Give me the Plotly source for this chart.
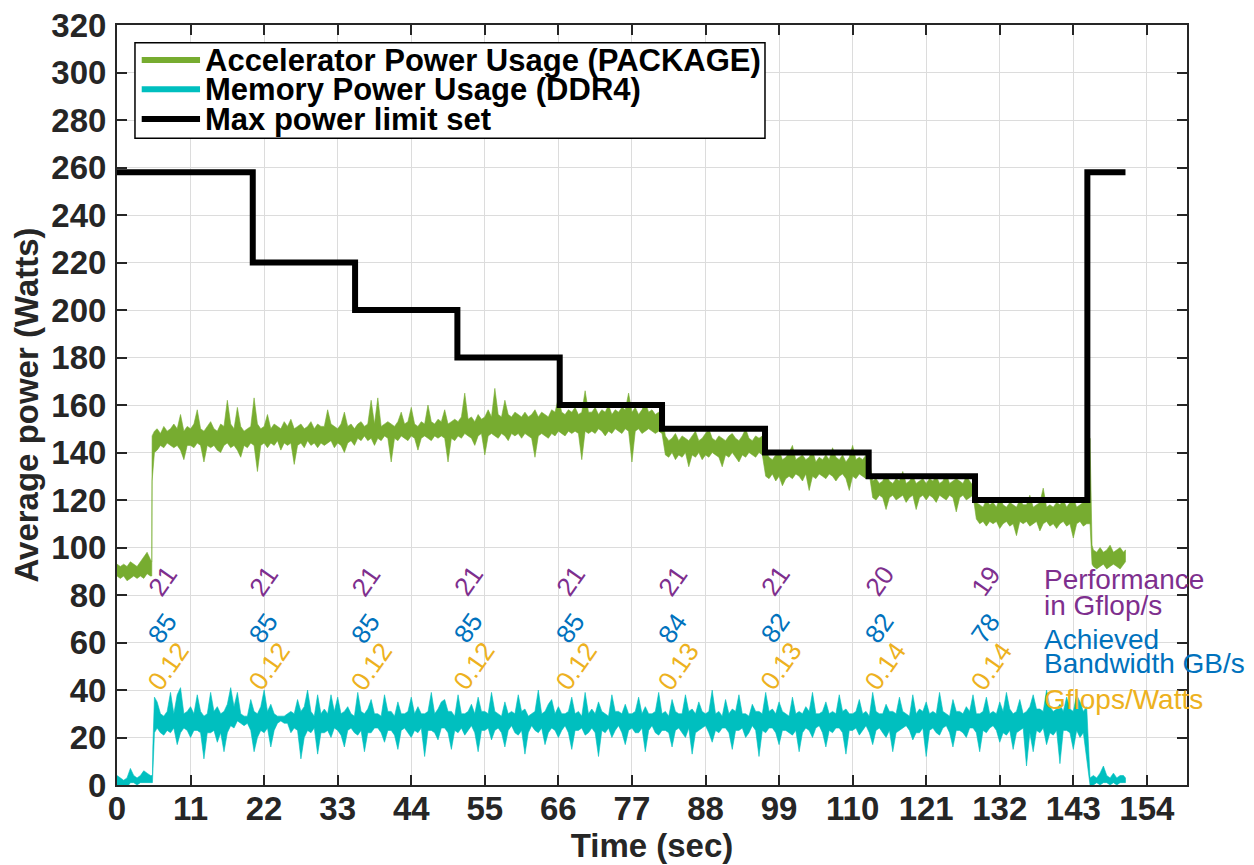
import plotly.graph_objects as go

# ======================= data =======================
# Accelerator (PACKAGE) power -- envelope of the noisy trace.
# before the load starts (explicit sample times)
green_pre_t = [0, 0.5, 1, 1.5, 2, 2.5, 3, 3.5, 4, 4.5, 5, 5.2, 5.25, 5.6]
green_pre_hi = [93, 92, 93, 92, 94, 93, 92, 94, 96, 98, 95, 94, 147, 149]
green_pre_lo = [88, 87, 88, 86, 87, 88, 87, 88, 87, 89, 88, 88, 128, 140]
# main run, one sample every 0.5 s starting at t = 6.0 s (rows of 5 s)
green_main_hi = [
    150, 148, 151, 149, 150, 152, 150, 156, 149, 151,
    150, 152, 158, 150, 149, 151, 153, 150, 149, 152,
    151, 162, 152, 150, 159, 151, 149, 150, 151, 163,
    152, 150, 151, 156, 150, 152, 151, 150, 153, 151,
    154, 150, 151, 152, 150, 151, 153, 150, 152, 151,
    151, 158, 152, 151, 150, 152, 157, 151, 152, 150,
    152, 153, 151, 152, 162, 152, 163, 151, 152, 153,
    152, 151, 153, 157, 152, 153, 159, 152, 151, 153,
    152, 160, 153, 152, 154, 153, 158, 152, 153, 154,
    153, 155, 165, 154, 155, 153, 156, 154, 155, 158,
    155, 167, 156, 155, 162, 156, 155, 157, 156, 155,
    157, 155, 156, 158, 155, 157, 156, 155, 158, 157,
    163, 157, 156, 158, 157, 159, 156, 157, 166, 157,
    157, 159, 156, 158, 157, 160, 156, 158, 157, 159,
    158, 165, 157, 159, 156, 158, 161, 157, 158, 156,
    157, 155, 147, 145, 146, 148, 145, 147, 146, 145,
    147, 149, 145, 146, 148, 150, 146, 145, 147, 146,
    145, 147, 148, 146, 145, 147, 150, 146, 145, 147,
    146, 147, 141, 138, 137, 139, 141, 137, 138, 140,
    143, 137, 138, 139, 137, 138, 141, 136, 138, 137,
    139, 137, 142, 138, 137, 139, 136, 138, 143, 137,
    138, 137, 139, 137, 128, 129, 127, 128, 131, 128,
    127, 129, 128, 132, 127, 128, 130, 127, 128, 129,
    127, 129, 128, 130, 127, 128, 131, 127, 128, 129,
    128, 127, 130, 128, 126, 119, 118, 117, 120, 118,
    119, 117, 121, 118, 117, 119, 118, 117, 120, 118,
    118, 122, 117, 118, 119, 125, 117, 118, 117, 119,
    118, 120, 117, 119, 121, 117, 118, 119, 120, 146,
]
green_main_lo = [
    141, 143, 142, 144, 143, 142, 143, 141, 137, 143,
    143, 142, 144, 143, 136, 143, 142, 143, 141, 140,
    143, 144, 142, 143, 141, 138, 143, 142, 144, 143,
    132, 143, 144, 142, 144, 143, 145, 141, 144, 143,
    144, 135, 143, 144, 142, 145, 143, 144, 142, 144,
    143, 144, 145, 142, 144, 143, 140, 144, 145, 143,
    146, 145, 147, 145, 146, 143, 146, 145, 147, 146,
    136, 146, 145, 147, 146, 145, 147, 146, 141, 146,
    147, 146, 145, 147, 146, 147, 146, 136, 146, 145,
    147, 146, 148, 147, 146, 143, 147, 148, 139, 147,
    148, 147, 146, 148, 147, 145, 148, 147, 148, 146,
    148, 147, 146, 138, 147, 148, 147, 146, 148, 147,
    149, 148, 147, 149, 148, 149, 148, 137, 149, 148,
    149, 148, 150, 149, 147, 149, 148, 150, 149, 148,
    150, 149, 136, 149, 150, 148, 149, 150, 149, 148,
    149, 148, 139, 138, 140, 137, 139, 138, 140, 134,
    139, 138, 140, 137, 139, 138, 140, 139, 138, 134,
    139, 138, 140, 138, 136, 139, 138, 140, 139, 138,
    140, 139, 130, 129, 131, 128, 130, 126, 129, 130,
    129, 131, 130, 128, 131, 124, 130, 129, 131, 130,
    129, 131, 130, 128, 130, 131, 129, 124, 130, 129,
    131, 130, 129, 131, 121, 120, 122, 121, 116, 121,
    122, 120, 121, 122, 119, 121, 122, 116, 121, 122,
    120, 122, 121, 119, 122, 121, 120, 122, 121, 115,
    121, 122, 120, 121, 122, 112, 110, 111, 109, 111,
    110, 111, 108, 110, 111, 109, 110, 105, 111, 110,
    111, 109, 110, 111, 107, 110, 111, 109, 110, 108,
    110, 111, 109, 110, 104, 110, 111, 109, 110, 110,
]
# after the load ends
green_post_t = [145.8, 146, 146.5, 147, 147.5, 148, 148.5, 149, 149.5, 150, 150.5, 150.8]
green_post_hi = [101, 99, 98, 100, 98, 99, 101, 98, 99, 100, 98, 99]
green_post_lo = [93, 92, 91, 92, 93, 91, 92, 93, 92, 91, 93, 94]

# Memory (DDR4) power -- envelope of the noisy trace.
cyan_pre_t = [0, 0.5, 1, 1.5, 2, 2.5, 3, 3.5, 4, 4.5, 5, 5.3, 5.35, 5.6]
cyan_pre_hi = [4, 3, 2, 3, 7, 4, 3, 4, 6, 5, 4, 4, 15, 37]
cyan_pre_lo = [0, -1, 0, -1, 1, 1, 0, 1, 1, 1, 1, 1, 4, 22]
cyan_main_hi = [
    35, 30, 29, 31, 39, 30, 38, 41, 30, 31,
    33, 30, 38, 31, 29, 30, 39, 31, 33, 30,
    31, 34, 41, 33, 39, 30, 29, 29, 36, 31,
    30, 33, 40, 31, 34, 30, 29, 29, 29, 30,
    31, 30, 36, 31, 33, 40, 31, 29, 38, 30,
    32, 30, 38, 31, 37, 30, 31, 33, 30, 29,
    39, 31, 30, 32, 36, 30, 30, 29, 38, 31,
    31, 29, 35, 30, 30, 31, 37, 30, 33, 30,
    30, 31, 39, 30, 32, 35, 36, 31, 31, 29,
    38, 30, 30, 31, 34, 30, 37, 31, 31, 30,
    39, 31, 30, 29, 35, 30, 31, 30, 38, 31,
    32, 29, 30, 31, 40, 30, 31, 34, 36, 30,
    33, 30, 30, 31, 37, 30, 31, 29, 39, 30,
    32, 30, 35, 31, 30, 29, 38, 31, 31, 30,
    34, 30, 30, 31, 37, 30, 33, 30, 30, 31,
    39, 30, 31, 29, 36, 31, 30, 30, 38, 31,
    32, 30, 35, 31, 30, 31, 40, 30, 31, 29,
    36, 30, 32, 31, 38, 30, 30, 29, 34, 31,
    31, 30, 39, 31, 32, 30, 35, 31, 30, 29,
    37, 30, 31, 30, 33, 31, 39, 30, 30, 31,
    35, 30, 31, 30, 38, 31, 32, 30, 30, 31,
    36, 30, 31, 29, 39, 31, 30, 30, 34, 31,
    31, 30, 37, 31, 30, 29, 38, 30, 32, 31,
    35, 30, 31, 30, 39, 31, 30, 29, 36, 31,
    31, 30, 33, 31, 38, 30, 30, 31, 37, 30,
    31, 30, 35, 31, 39, 32, 30, 31, 36, 30,
    31, 33, 38, 32, 32, 31, 40, 33, 31, 32,
    34, 31, 37, 32, 31, 38, 35, 31, 33, 3,
]
cyan_main_lo = [
    24, 22, 21, 23, 22, 24, 17, 22, 24, 23,
    20, 23, 23, 22, 11, 22, 22, 23, 18, 22,
    14, 22, 25, 24, 27, 26, 25, 26, 23, 14,
    20, 23, 22, 24, 16, 23, 26, 27, 26, 26,
    22, 24, 23, 11, 20, 23, 22, 24, 13, 22,
    22, 23, 20, 24, 23, 21, 16, 23, 24, 22,
    21, 23, 14, 22, 22, 24, 24, 22, 18, 23,
    23, 21, 15, 23, 24, 22, 20, 23, 22, 24,
    12, 23, 23, 22, 19, 24, 24, 22, 15, 23,
    22, 24, 21, 23, 25, 22, 14, 23, 23, 24,
    19, 23, 24, 22, 16, 23, 25, 22, 21, 23,
    13, 22, 25, 23, 22, 24, 17, 22, 24, 23,
    20, 23, 25, 22, 15, 23, 23, 24, 21, 22,
    24, 22, 12, 23, 22, 24, 20, 23, 25, 22,
    17, 23, 24, 22, 22, 24, 14, 23, 25, 22,
    21, 23, 23, 22, 16, 23, 24, 22, 20, 24,
    13, 22, 23, 24, 25, 22, 18, 23, 22, 24,
    24, 22, 15, 23, 23, 24, 20, 22, 25, 23,
    12, 23, 22, 24, 24, 22, 17, 23, 23, 22,
    21, 23, 14, 22, 24, 23, 20, 24, 25, 22,
    16, 23, 22, 24, 24, 22, 13, 23, 23, 24,
    21, 23, 25, 22, 17, 23, 24, 22, 20, 23,
    14, 22, 23, 24, 25, 23, 19, 22, 22, 24,
    12, 23, 24, 22, 21, 24, 25, 22, 16, 23,
    23, 22, 20, 24, 24, 22, 14, 23, 22, 24,
    25, 23, 18, 22, 21, 23, 15, 22, 23, 24,
    8, 22, 14, 23, 22, 24, 17, 22, 21, 23,
    9, 23, 23, 22, 15, 23, 20, 22, 12, 0,
]
cyan_post_t = [146, 146.5, 147, 147.5, 148, 148.5, 149, 149.5, 150, 150.5, 150.8]
cyan_post_hi = [4, 3, 5, 8, 4, 3, 5, 3, 4, 4, 3]
cyan_post_lo = [0, 1, 0, 1, 1, 0, 1, 0, 1, 1, 1]

MAIN_START_S = 6.0
SAMPLE_STEP_S = 0.5

# Max power limit set (step changes)
limit_t = [0, 20.3, 35.6, 50.9, 66.2, 81.5, 96.9, 112.4, 128.3, 145.1, 150.8]
limit_w = [258, 220, 200, 180, 160, 150, 140, 130, 120, 258, 258]

# Per-phase annotations
label_t = [6.8, 21.9, 37.2, 52.5, 67.8, 83.1, 98.4, 114.0, 129.9]
perf_gflops = ["21", "21", "21", "21", "21", "21", "21", "20", "19"]
bandwidth_gbs = ["85", "85", "85", "85", "85", "84", "82", "82", "78"]
gflops_per_watt = ["0.12", "0.12", "0.12", "0.12", "0.12", "0.13", "0.13", "0.14", "0.14"]

x_ticks = [0, 11, 22, 33, 44, 55, 66, 77, 88, 99, 110, 121, 132, 143, 154]
y_ticks = [0, 20, 40, 60, 80, 100, 120, 140, 160, 180, 200, 220, 240, 260, 280, 300, 320]

series_names = ["Accelerator Power Usage (PACKAGE)", "Memory Power Usage (DDR4)",
                "Max power limit set"]

# ======================= assemble =======================
assert len(green_main_hi) == len(green_main_lo)
assert len(cyan_main_hi) == len(cyan_main_lo)
assert len(green_pre_t) == len(green_pre_hi) == len(green_pre_lo)
assert len(cyan_pre_t) == len(cyan_pre_hi) == len(cyan_pre_lo)
assert len(green_post_t) == len(green_post_hi) == len(green_post_lo)
assert len(cyan_post_t) == len(cyan_post_hi) == len(cyan_post_lo)

green_main_t = [MAIN_START_S + SAMPLE_STEP_S * i for i in range(len(green_main_hi))]
cyan_main_t = [MAIN_START_S + SAMPLE_STEP_S * i for i in range(len(cyan_main_hi))]

green_t = green_pre_t + green_main_t + green_post_t
green_hi = green_pre_hi + green_main_hi + green_post_hi
green_lo = green_pre_lo + green_main_lo + green_post_lo
cyan_t = cyan_pre_t + cyan_main_t + cyan_post_t
cyan_hi = cyan_pre_hi + cyan_main_hi + cyan_post_hi
cyan_lo = cyan_pre_lo + cyan_main_lo + cyan_post_lo

# ======================= style =======================
GREEN = "#77AC30"
CYAN = "#00BFBF"
PURPLE = "#7E2F8E"
BLUE = "#0072BD"
ORANGE = "#EDB120"
AXIS = "#262626"
FONT = "Liberation Sans, Arial, Helvetica, sans-serif"

fig = go.Figure()

# noisy traces drawn as filled envelopes (upper edge forward, lower edge back)
fig.add_trace(go.Scatter(
    x=green_t + green_t[::-1], y=green_hi + green_lo[::-1],
    fill="toself", fillcolor=GREEN, mode="lines",
    line=dict(color=GREEN, width=0.6), name=series_names[0],
    showlegend=False, hoverinfo="skip"))
fig.add_trace(go.Scatter(
    x=cyan_t + cyan_t[::-1], y=cyan_hi + cyan_lo[::-1],
    fill="toself", fillcolor=CYAN, mode="lines",
    line=dict(color=CYAN, width=0.6), name=series_names[1],
    showlegend=False, hoverinfo="skip"))
fig.add_trace(go.Scatter(
    x=limit_t, y=limit_w, mode="lines",
    line=dict(color="black", width=6, shape="hv"),
    name=series_names[2], showlegend=False))

annotations = []
for t, p, b, e in zip(label_t, perf_gflops, bandwidth_gbs, gflops_per_watt):
    annotations.append(dict(x=t, y=86, text=p, showarrow=False, textangle=-55,
                            font=dict(family=FONT, size=26, color=PURPLE)))
    annotations.append(dict(x=t, y=66, text=b, showarrow=False, textangle=-55,
                            font=dict(family=FONT, size=26, color=BLUE)))
    annotations.append(dict(x=t, y=50, text=e, showarrow=False, textangle=-55, xshift=6,
                            font=dict(family=FONT, size=26, color=ORANGE)))

side_labels = [("Performance", 86.7, PURPLE), ("in Gflop/s", 75.6, PURPLE),
               ("Achieved", 61.2, BLUE), ("Bandwidth GB/s", 51.0, BLUE),
               ("Gflops/Watts", 35.8, ORANGE)]
for txt, yv, col in side_labels:
    annotations.append(dict(x=138.3, y=yv, text=txt, showarrow=False, xanchor="left",
                            yanchor="middle",
                            font=dict(family=FONT, size=28, color=col)))

# legend box (paper coordinates of the plot area)
LEG_X0, LEG_X1, LEG_Y0, LEG_Y1 = 0.0168, 0.6056, 0.851, 0.9767
LEG_LINE_X0, LEG_LINE_X1, LEG_TEXT_X = 0.0231, 0.0776, 0.0805
LEG_ROWS = [0.9539, 0.9154, 0.8763]
legend_colors = [GREEN, CYAN, "black"]

shapes = [dict(type="rect", xref="paper", yref="paper",
               x0=LEG_X0, x1=LEG_X1, y0=LEG_Y0, y1=LEG_Y1,
               line=dict(color="black", width=1.5), fillcolor="white", layer="above")]
for yr, col, name in zip(LEG_ROWS, legend_colors, series_names):
    shapes.append(dict(type="line", xref="paper", yref="paper",
                       x0=LEG_LINE_X0, x1=LEG_LINE_X1, y0=yr, y1=yr,
                       line=dict(color=col, width=6), layer="above"))
    annotations.append(dict(xref="paper", yref="paper", x=LEG_TEXT_X, y=yr, text=name,
                            showarrow=False, xanchor="left", yanchor="middle",
                            font=dict(family=FONT, size=31, color="black", weight="bold")))

fig.update_layout(
    width=1246, height=857,
    margin=dict(l=109, r=67, t=17, b=80),
    plot_bgcolor="white", paper_bgcolor="white",
    font=dict(family=FONT, color=AXIS),
    showlegend=False,
    annotations=annotations,
    shapes=shapes,
)

fig.update_xaxes(
    range=[0, 160], tickvals=x_ticks, ticktext=[str(v) for v in x_ticks],
    showgrid=True, gridcolor="#DCDCDC", gridwidth=1.3,
    showline=True, linecolor=AXIS, linewidth=2, mirror="ticks",
    ticks="inside", ticklen=10, tickwidth=1.5, tickcolor=AXIS,
    tickfont=dict(family=FONT, size=33, color=AXIS, weight="bold"),
    ticklabelstandoff=-7, ticklabeloverflow="allow",
    zeroline=False,
    title=dict(text="Time (sec)", standoff=2,
               font=dict(family=FONT, size=33, color=AXIS, weight="bold")),
    automargin=False,
)
fig.update_yaxes(
    range=[0, 320], tickvals=y_ticks, ticktext=[str(v) for v in y_ticks],
    showgrid=True, gridcolor="#DCDCDC", gridwidth=1.3,
    showline=True, linecolor=AXIS, linewidth=2, mirror="ticks",
    ticks="inside", ticklen=10, tickwidth=1.5, tickcolor=AXIS,
    tickfont=dict(family=FONT, size=33, color=AXIS, weight="bold"),
    ticklabelstandoff=2, ticklabeloverflow="allow",
    zeroline=False,
    title=dict(text="Average power (Watts)", standoff=4,
               font=dict(family=FONT, size=33, color=AXIS, weight="bold")),
    automargin=False,
)

fig.write_html("out.html")
